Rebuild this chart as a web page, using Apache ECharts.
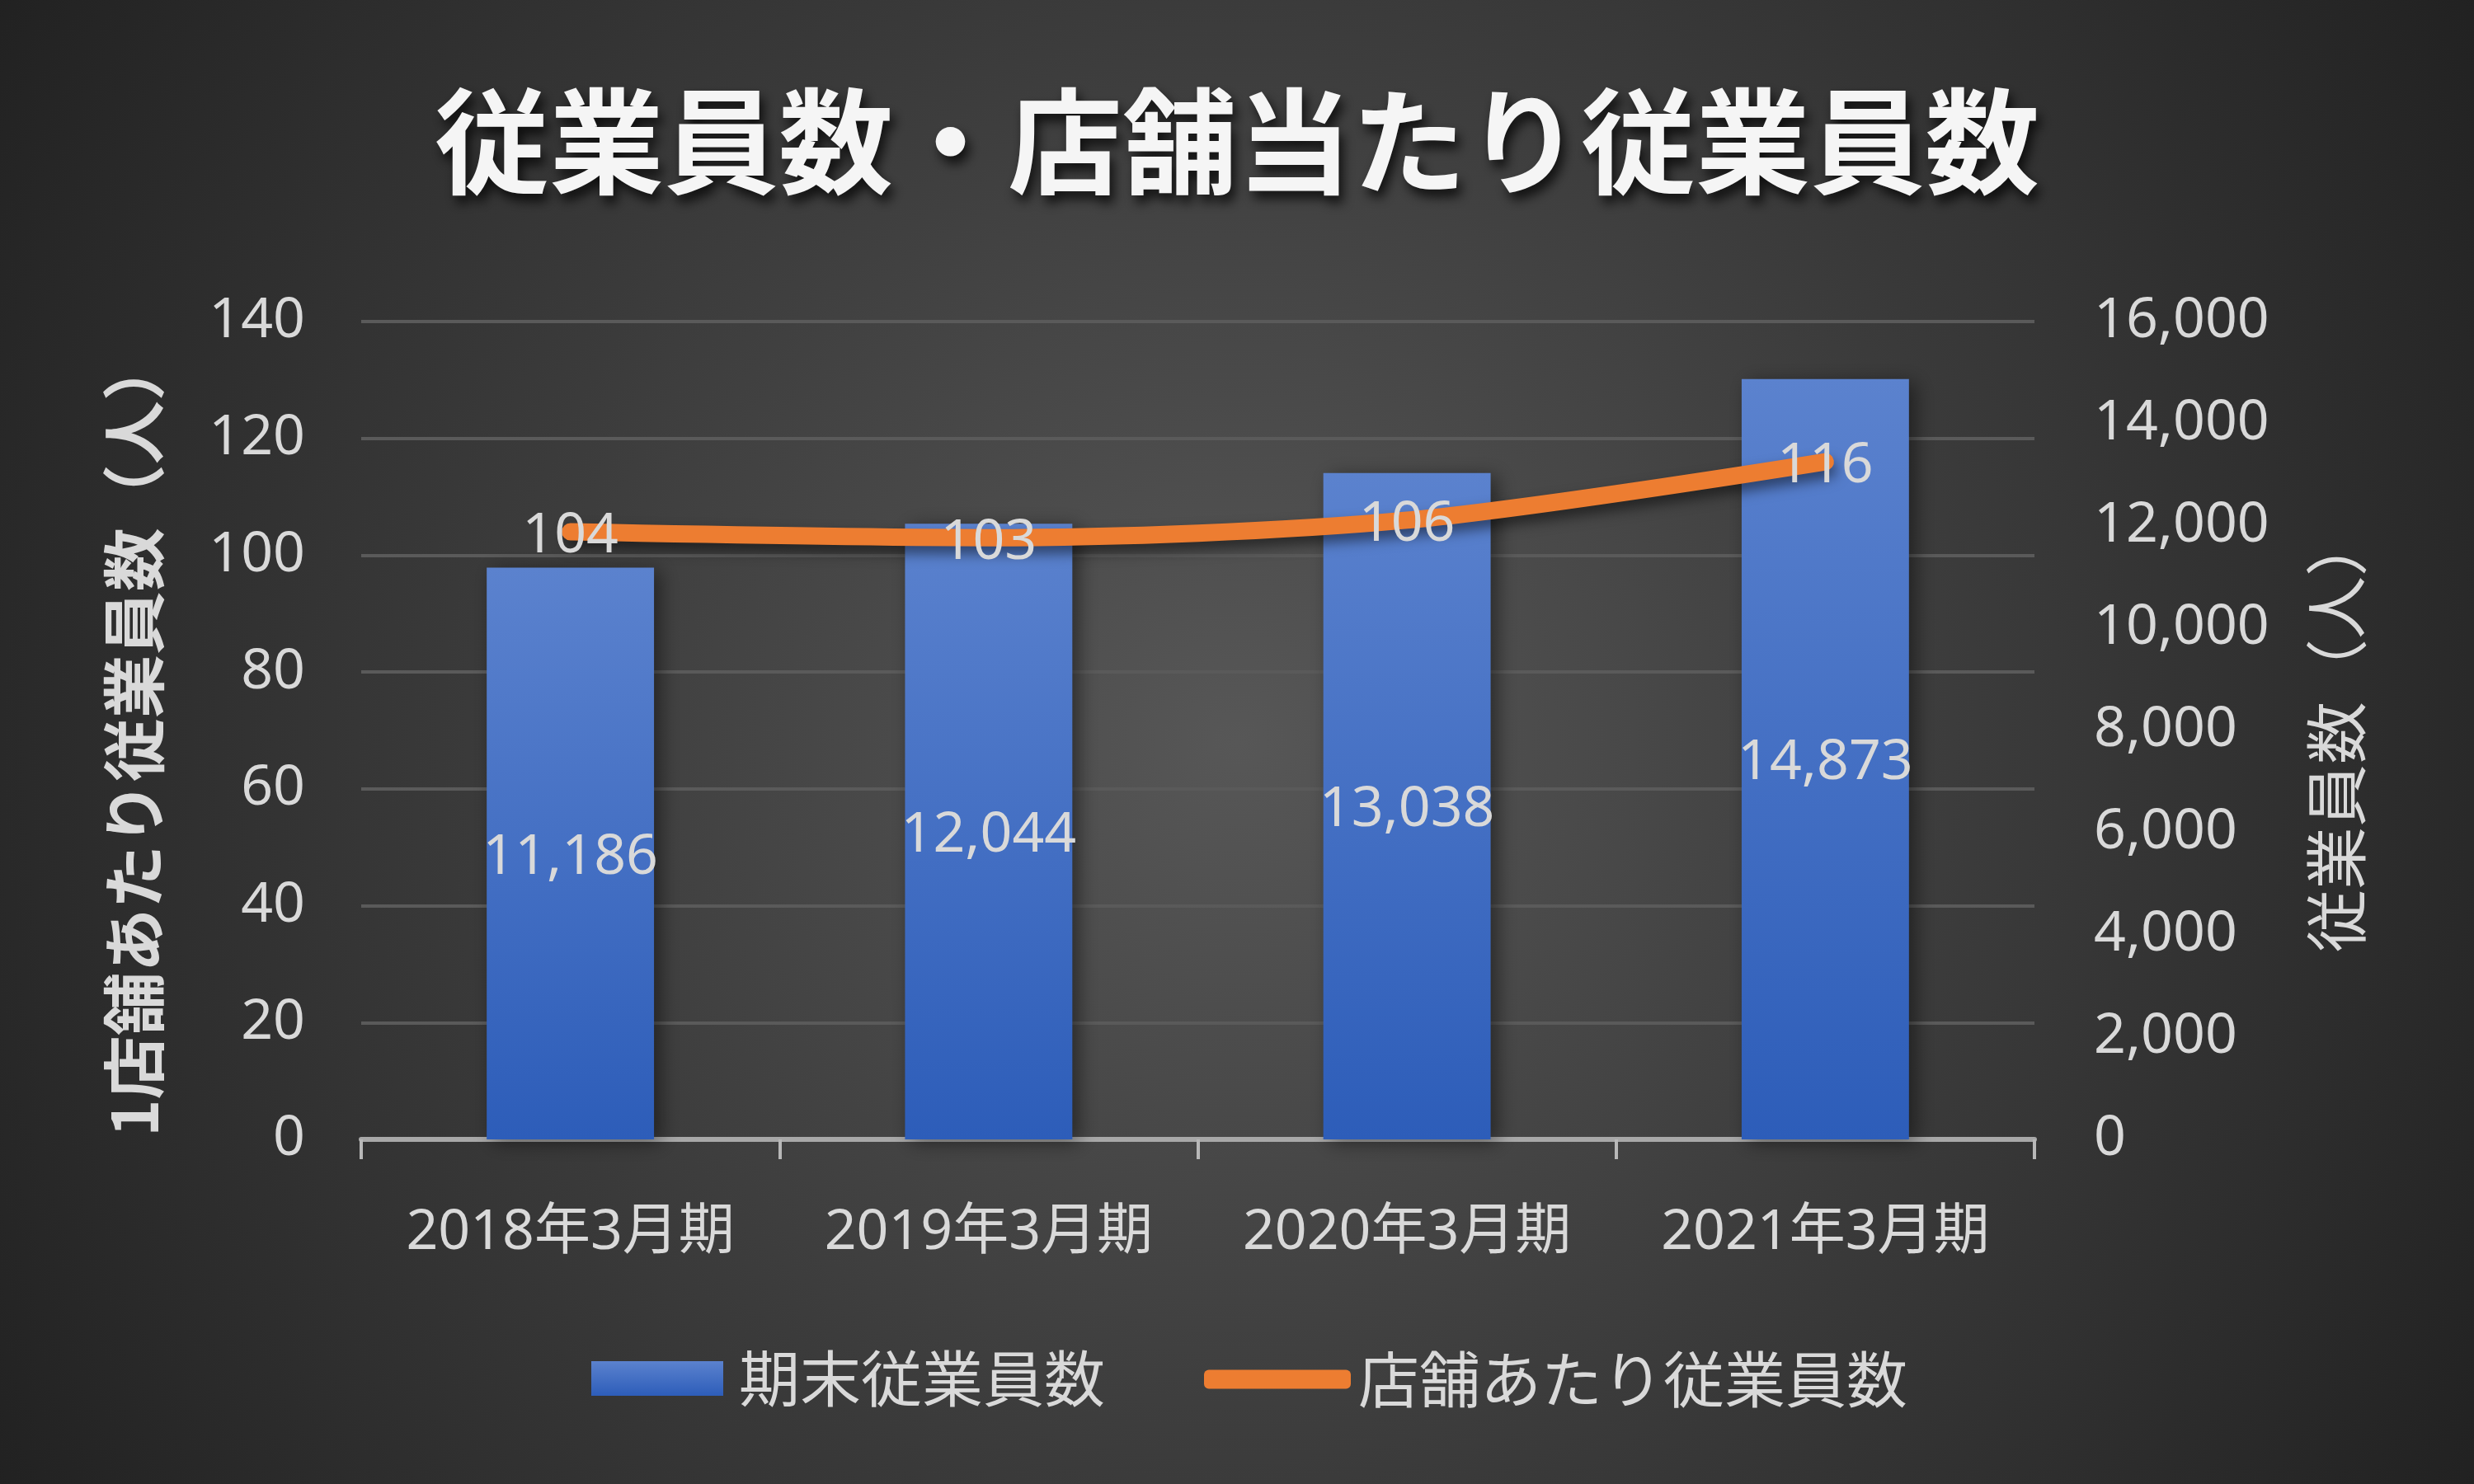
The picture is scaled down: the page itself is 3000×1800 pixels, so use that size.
<!DOCTYPE html>
<html>
<head>
<meta charset="utf-8">
<script src="https://cdn.jsdelivr.net/npm/echarts@6/dist/echarts.min.js"></script>
<style>
html,body{margin:0;padding:0;background:#2a2a2a;}
#chart{width:3000px;height:1800px;}
</style>
</head>
<body>
<div id="chart"></div>
<script>
var categories = ['2018年3月期', '2019年3月期', '2020年3月期', '2021年3月期'];
var employees = [11186, 12044, 13038, 14873];
var perStore = [104, 103, 106, 116];
var leftTicks = { min: 0, max: 140, interval: 20 };
var rightTicks = { min: 0, max: 16000, interval: 2000 };
var titleText = '従業員数・店舗当たり従業員数';
var leftName = '1店舗あたり従業員数（人）';
var rightName = '従業員数（人）';
var barName = '期末従業員数';
var lineName = '店舗あたり従業員数';

function commas(v) {
  return String(v).replace(/\B(?=(\d{3})+(?!\d))/g, ',');
}

var txt = '#d9d9d9';
var numFont = '"Noto Sans", "Noto Sans CJK JP", sans-serif';
var jpFont = '"Noto Sans CJK JP", "Noto Sans", sans-serif';

var chart = echarts.init(document.getElementById('chart'));
chart.setOption({
  backgroundColor: new echarts.graphic.RadialGradient(0.5, 0.5, 1.0, [
    { offset: 0, color: '#575757' },
    { offset: 0.5, color: '#3b3b3b' },
    { offset: 1, color: '#202020' }
  ]),
  title: {
    text: titleText,
    left: 'center',
    top: 97,
    textStyle: {
      fontFamily: jpFont,
      fontWeight: 'bold',
      fontSize: 139,
      color: '#f5f5f5',
      textShadowColor: 'rgba(0,0,0,0.75)',
      textShadowBlur: 14,
      textShadowOffsetX: 5,
      textShadowOffsetY: 9
    }
  },
  legend: [
    {
      data: [{ name: barName, icon: 'rect' }],
      left: 712,
      top: 1630,
      itemWidth: 160,
      itemHeight: 42,
      selectedMode: false,
      itemStyle: { borderWidth: 0 },
      textStyle: { color: txt, fontFamily: jpFont, fontSize: 74, padding: [0, 0, 0, 14] }
    },
    {
      data: [{ name: lineName, icon: 'roundRect' }],
      left: 1455,
      top: 1631,
      itemWidth: 178,
      itemHeight: 23,
      selectedMode: false,
      itemStyle: { borderWidth: 0 },
      textStyle: { color: txt, fontFamily: jpFont, fontSize: 74, padding: [0, 0, 0, 4] }
    }
  ],
  grid: { left: 438, right: 533, top: 390, bottom: 418 },
  xAxis: {
    type: 'category',
    data: categories,
    axisLine: { lineStyle: { color: '#a8a8a8', width: 6 } },
    axisTick: { show: true, interval: 0, length: 24, lineStyle: { color: '#b8b8b8', width: 4 } },
    axisLabel: { interval: 0, color: txt, fontFamily: numFont, fontSize: 68, margin: 80 }
  },
  yAxis: [
    {
      type: 'value',
      min: leftTicks.min, max: leftTicks.max, interval: leftTicks.interval,
      name: leftName,
      nameLocation: 'middle',
      nameRotate: 90,
      nameGap: 237,
      nameTextStyle: { color: txt, fontFamily: jpFont, fontSize: 77, fontWeight: 'bold', padding: [0, 16, 0, 0] },
      axisLine: { show: false },
      axisTick: { show: false },
      axisLabel: { color: txt, fontFamily: numFont, fontSize: 68, margin: 68 },
      splitLine: { lineStyle: { color: '#5a5a5a', width: 4 } }
    },
    {
      type: 'value',
      min: rightTicks.min, max: rightTicks.max, interval: rightTicks.interval,
      name: rightName,
      nameLocation: 'middle',
      nameRotate: 90,
      nameGap: 328,
      nameTextStyle: { color: txt, fontFamily: jpFont, fontSize: 76, padding: [0, 6, 0, 0] },
      axisLine: { show: false },
      axisTick: { show: false },
      splitLine: { show: false },
      axisLabel: { color: txt, fontFamily: numFont, fontSize: 68, margin: 72, formatter: function (v) { return commas(v); } }
    }
  ],
  series: [
    {
      name: barName,
      type: 'bar',
      yAxisIndex: 1,
      data: employees,
      barWidth: '40%',
      itemStyle: {
        color: new echarts.graphic.LinearGradient(0, 0, 0, 1, [
          { offset: 0, color: '#5b82ce' },
          { offset: 1, color: '#2d5db9' }
        ]),
        shadowColor: 'rgba(0,0,0,0.45)',
        shadowBlur: 22,
        shadowOffsetX: 8,
        shadowOffsetY: 4
      },
      label: {
        show: true,
        position: 'inside',
        offset: [0, 5],
        color: txt,
        fontFamily: numFont,
        fontSize: 68,
        formatter: function (p) { return commas(p.value); }
      },
      z: 2
    },
    {
      name: lineName,
      type: 'line',
      yAxisIndex: 0,
      data: perStore,
      smooth: 0.3,
      symbol: 'circle',
      symbolSize: 1,
      showSymbol: true,
      itemStyle: { color: '#ed7d31', borderWidth: 0 },
      lineStyle: {
        color: '#ed7d31',
        width: 21,
        cap: 'round',
        shadowColor: 'rgba(0,0,0,0.5)',
        shadowBlur: 16,
        shadowOffsetY: 9,
        shadowOffsetX: 3
      },
      label: {
        show: true,
        position: 'inside',
        offset: [0, 6],
        color: txt,
        fontFamily: numFont,
        fontSize: 68
      },
      z: 3
    }
  ]
});
</script>
</body>
</html>
